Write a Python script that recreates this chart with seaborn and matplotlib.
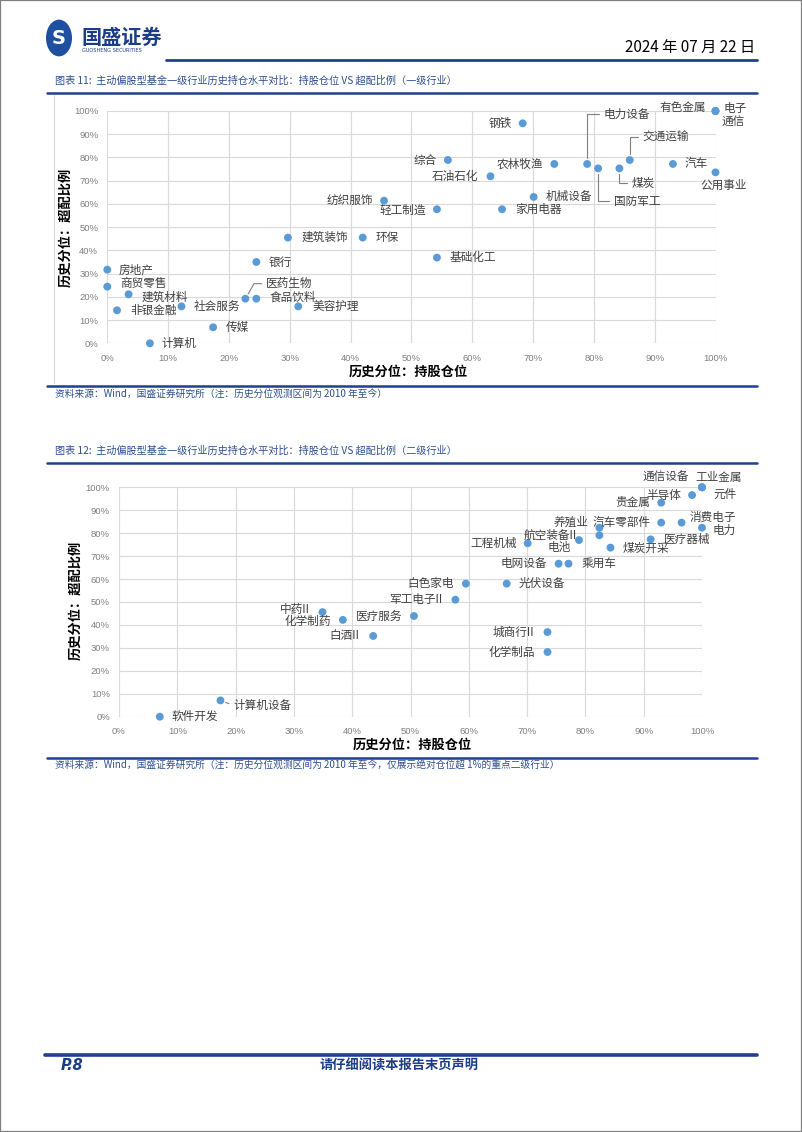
import matplotlib
matplotlib.use("Agg")
import matplotlib.pyplot as plt
import seaborn as sns
import pandas as pd
from matplotlib.patches import Circle, Rectangle
from matplotlib.lines import Line2D

# ---------------- data ----------------
# Chart 11: first-level industries (historical percentile, %)
ind1 = ["房地产", "商贸零售", "建筑材料", "非银金融", "社会服务", "计算机", "传媒",
        "医药生物", "食品饮料", "银行", "美容护理", "建筑装饰", "环保", "纺织服饰",
        "轻工制造", "综合", "石油石化", "钢铁", "家用电器", "机械设备", "基础化工",
        "农林牧渔", "电力设备", "国防军工", "煤炭", "交通运输", "汽车",
        "有色金属", "电子", "通信", "公用事业"]
pos1 = [0.0, 0.0, 3.5, 1.6, 12.2, 7.0, 17.4,
        22.7, 24.5, 24.5, 31.4, 29.7, 42.0, 45.5,
        54.2, 56.0, 63.0, 68.3, 64.9, 70.1, 54.2,
        73.5, 78.9, 80.7, 84.2, 85.9, 93.0,
        100.0, 100.0, 100.0, 100.0]
ovr1 = [31.7, 24.4, 21.1, 14.2, 15.9, 0.0, 6.9,
        19.2, 19.2, 35.0, 15.9, 45.5, 45.5, 61.4,
        57.7, 78.9, 71.9, 94.7, 57.7, 63.0, 36.9,
        77.2, 77.2, 75.3, 75.3, 78.9, 77.2,
        100.0, 100.0, 100.0, 73.6]

# Chart 12: second-level industries
ind2 = ["软件开发", "计算机设备", "中药II", "化学制药", "白酒II", "医疗服务",
        "军工电子II", "白色家电", "光伏设备", "电网设备", "乘用车", "城商行II",
        "化学制品", "工程机械", "航空装备II", "电池", "养殖业", "煤炭开采",
        "医疗器械", "汽车零部件", "消费电子", "电力", "贵金属", "半导体",
        "通信设备", "工业金属", "元件"]
pos2 = [7.0, 17.4, 34.9, 38.4, 43.6, 50.6,
        57.7, 59.5, 66.5, 75.4, 77.1, 73.5,
        73.5, 70.1, 78.9, 82.4, 82.4, 84.3,
        91.2, 93.0, 96.5, 100.0, 93.0, 98.3,
        100.0, 100.0, 100.0]
ovr2 = [0.0, 7.1, 45.6, 42.2, 35.2, 43.9,
        51.0, 58.0, 58.0, 66.7, 66.7, 36.9,
        28.2, 75.6, 77.0, 79.1, 82.4, 73.7,
        77.3, 84.6, 84.6, 82.4, 93.3, 96.6,
        100.0, 100.0, 100.0]

tick_vals = [0, 10, 20, 30, 40, 50, 60, 70, 80, 90, 100]
tick_labels = [f"{v}%" for v in tick_vals]

xlabel = "历史分位：持股仓位"
ylabel = "历史分位：超配比例"
title1 = "图表 11:  主动偏股型基金一级行业历史持仓水平对比：持股仓位 VS 超配比例（一级行业）"
title2 = "图表 12:  主动偏股型基金一级行业历史持仓水平对比：持股仓位 VS 超配比例（二级行业）"
source1 = "资料来源：Wind，国盛证券研究所（注：历史分位观测区间为 2010 年至今）"
source2 = "资料来源：Wind，国盛证券研究所（注：历史分位观测区间为 2010 年至今，仅展示绝对仓位超 1%的重点二级行业）"

# ---------------- label placement (pixel offsets, ha) ----------------
lab1 = {
    "房地产": (11, 0, "left"), "商贸零售": (13, 3, "left"), "建筑材料": (13, -3, "left"),
    "非银金融": (13, 0, "left"), "社会服务": (12, 0, "left"), "计算机": (12, 0, "left"),
    "传媒": (13, 0, "left"), "医药生物": (21, 15, "left"), "食品饮料": (13, 1, "left"),
    "银行": (12, 0, "left"), "美容护理": (14, 0, "left"), "建筑装饰": (14, 0, "left"),
    "环保": (13, 0, "left"), "纺织服饰": (-11, 0, "right"), "轻工制造": (-11, -1, "right"),
    "综合": (-11, 0, "right"), "石油石化": (-12, 0, "right"), "钢铁": (-11, 0, "right"),
    "家用电器": (13, 0, "left"), "机械设备": (12, 0, "left"), "基础化工": (13, 0, "left"),
    "农林牧渔": (-11, 0, "right"), "电力设备": (16, 50, "left"), "国防军工": (16, -33, "left"),
    "煤炭": (12, -15, "left"), "交通运输": (13, 23, "left"), "汽车": (12, 0, "left"),
    "有色金属": (-9, 4, "right"), "电子": (8, 3, "left"), "通信": (6, -11, "left"),
    "公用事业": (8, -13, "center"),
}
lead1 = {
    "医药生物": "angle,angleA=0,angleB=60",
    "电力设备": "angle,angleA=0,angleB=90",
    "国防军工": "angle,angleA=0,angleB=90",
    "煤炭": "angle,angleA=0,angleB=90",
    "交通运输": "angle,angleA=0,angleB=90",
}
lab2 = {
    "软件开发": (12, 0, "left"), "计算机设备": (13, -5, "left"), "中药II": (-13, 3, "right"),
    "化学制药": (-12, -2, "right"), "白酒II": (-14, 0, "right"), "医疗服务": (-12, 0, "right"),
    "军工电子II": (-13, 0, "right"), "白色家电": (-12, 0, "right"), "光伏设备": (12, 0, "left"),
    "电网设备": (-12, 0, "right"), "乘用车": (13, 0, "left"), "城商行II": (-13, 0, "right"),
    "化学制品": (-12, 0, "right"), "工程机械": (-11, 0, "right"), "航空装备II": (-2, 5, "right"),
    "电池": (-29, -12, "right"), "养殖业": (-11, 6, "right"), "煤炭开采": (12, -1, "left"),
    "医疗器械": (13, 0, "left"), "汽车零部件": (-11, 0, "right"), "消费电子": (8, 5, "left"),
    "电力": (11, -3, "left"), "贵金属": (-11, 0, "right"), "半导体": (-11, 0, "right"),
    "通信设备": (-13, 10, "right"), "工业金属": (-7, 10, "left"), "元件": (11, -7, "left"),
}
lead2 = {"计算机设备": "arc3,rad=0"}

# ---------------- style ----------------
W, H = 802, 1132
sns.set_theme(style="white")
plt.rcParams["font.family"] = ["Noto Sans CJK SC", "DejaVu Sans"]

BLUE = "#1F3F8F"
TBLUE = "#2E4E8E"
DOT = "#5B9BD5"
GRID = "#D9D9D9"

fig = plt.figure(figsize=(W / 100, H / 100), dpi=100)


def fx(x):
    return x / W


def fy(y):
    return 1 - y / H


def hline(x0, x1, y, lw, color=BLUE):
    fig.add_artist(Line2D([fx(x0), fx(x1)], [fy(y), fy(y)], color=color, lw=lw,
                          transform=fig.transFigure))


# page border
fig.add_artist(Rectangle((0, 0), 1, 1, transform=fig.transFigure, fill=False,
                         edgecolor="#7F7F7F", lw=1.6))

# logo
fig.add_artist(Circle((fx(59), fy(38)), 13 / W, transform=fig.transFigure,
                      facecolor="#1E4FA0", edgecolor="none"))
fig.text(fx(59), fy(38), "S", ha="center", va="center", color="white",
         fontsize=14, fontweight="bold", family=["DejaVu Sans"])
fig.text(fx(81), fy(37), "国盛证券", ha="left", va="center", color="#1B3C86",
         fontsize=14.5, fontweight="bold")
fig.text(fx(82), fy(51), "GUOSHENG SECURITIES", ha="left", va="center",
         color="#1B3C86", fontsize=3.6, family=["DejaVu Sans"])

# header
fig.text(fx(755), fy(47), "2024 年 07 月 22 日", ha="right", va="center",
         color="black", fontsize=11)
hline(166, 757, 60, 2.0)

# chart 11 heading
fig.text(fx(55), fy(81), title1, ha="left", va="center", color=TBLUE, fontsize=7.3)
hline(47, 757, 92.5, 1.8)
fig.add_artist(Line2D([fx(54), fx(54)], [fy(95), fy(383)], color=GRID, lw=0.8,
                      transform=fig.transFigure))
hline(47, 757, 386, 1.8)
fig.text(fx(55), fy(394), source1, ha="left", va="center", color=TBLUE, fontsize=7)

# chart 12 heading
fig.text(fx(55), fy(451), title2, ha="left", va="center", color=TBLUE, fontsize=7.3)
hline(47, 757, 463, 1.8)
hline(47, 757, 758, 1.8)
fig.text(fx(55), fy(765), source2, ha="left", va="center", color=TBLUE, fontsize=7)

# footer
hline(45, 757, 1055, 2.6)
fig.text(fx(61), fy(1066), "P.8", ha="left", va="center", color="#1B3C86",
         fontsize=10.5, fontweight="bold", style="italic", family=["DejaVu Sans"])
fig.text(fx(399), fy(1066), "请仔细阅读本报告末页声明", ha="center", va="center",
         color="#1B3C86", fontsize=9.5, fontweight="bold")


def make_chart(box, names, xs, ys, labs, leads, xl_pos, yl_pos, xpad, ypad):
    x0, x1, ytop, ybot = box
    ax = fig.add_axes([fx(x0), fy(ybot), (x1 - x0) / W, (ybot - ytop) / H])
    df = pd.DataFrame({"name": names, "x": xs, "y": ys})
    ax.set_xlim(0, 100)
    ax.set_ylim(0, 100)
    ax.set_xticks(tick_vals)
    ax.set_yticks(tick_vals)
    ax.set_xticklabels(tick_labels)
    ax.set_yticklabels(tick_labels)
    for t in ax.get_xticklabels() + ax.get_yticklabels():
        t.set_family(["Liberation Sans", "DejaVu Sans"])
        t.set_fontsize(6.8)
        t.set_color("#7F7F7F")
    ax.tick_params(axis="x", length=0, pad=xpad)
    ax.tick_params(axis="y", length=0, pad=ypad)
    ax.grid(True, color=GRID, lw=0.8)
    for s in ax.spines.values():
        s.set_visible(False)
    ax.set_facecolor("none")
    sns.scatterplot(data=df, x="x", y="y", ax=ax, color=DOT, s=32,
                    edgecolor="none", clip_on=False, zorder=3, legend=False)
    ax.set_xlabel("")
    ax.set_ylabel("")
    for _, r in df.iterrows():
        dx, dy, ha = labs[r["name"]]
        kw = {}
        if r["name"] in leads:
            kw["arrowprops"] = dict(arrowstyle="-", color="#7F7F7F", lw=0.8,
                                    connectionstyle=leads[r["name"]],
                                    shrinkA=1, shrinkB=4,
                                    relpos=(0, 0.5))
        ax.annotate(r["name"], xy=(r["x"], r["y"]), xytext=(dx, dy),
                    textcoords="offset pixels", ha=ha, va="center",
                    fontsize=8.4, color="#404040", annotation_clip=False,
                    zorder=4, **kw)
    fig.text(fx(xl_pos[0]), fy(xl_pos[1]), xlabel, ha="center", va="center",
             fontsize=9.5, fontweight="bold", color="black")
    fig.text(fx(yl_pos[0]), fy(yl_pos[1]), ylabel, ha="center", va="center",
             rotation=90, fontsize=9.5, fontweight="bold", color="black")
    return ax


make_chart((107.3, 715.5, 111, 343.3), ind1, pos1, ovr1, lab1, lead1,
           (408, 372), (65, 227), 8, 6.5)
make_chart((119, 702, 487.3, 716.7), ind2, pos2, ovr2, lab2, lead2,
           (412, 745), (75, 600), 7.5, 6.5)

fig.savefig("out.png", dpi=100)
